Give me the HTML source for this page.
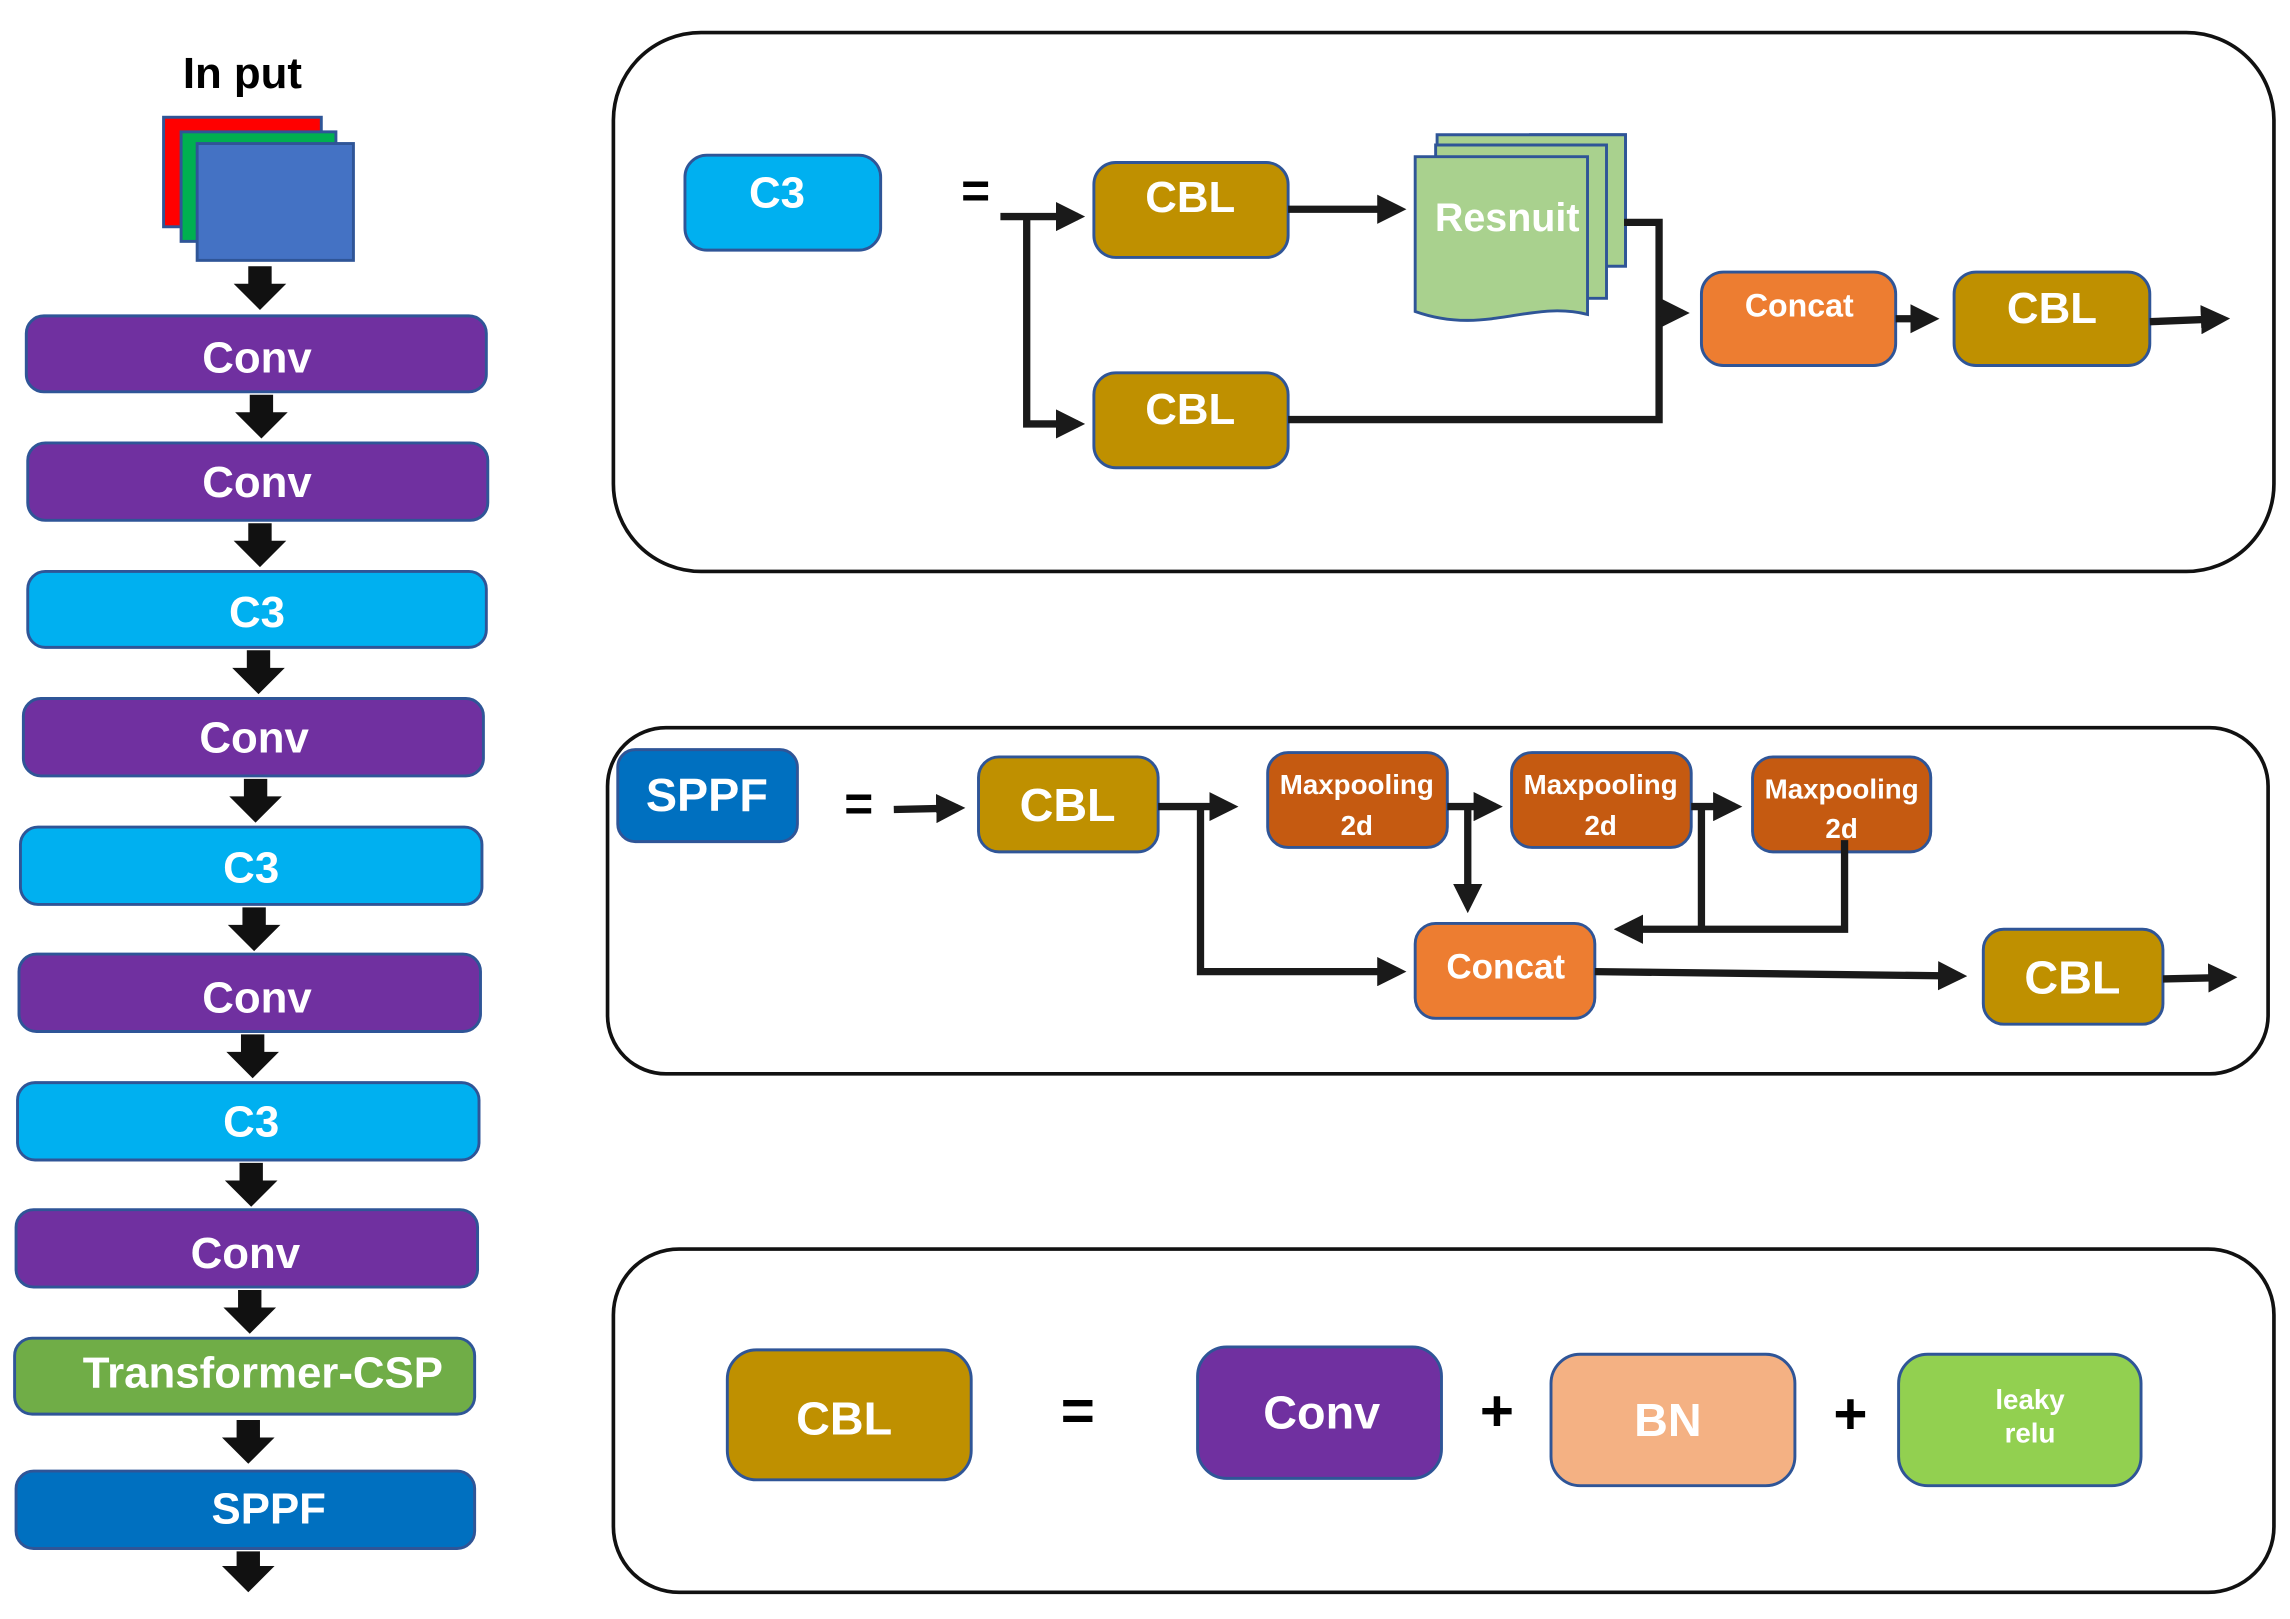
<!DOCTYPE html>
<html><head><meta charset="utf-8"><style>
html,body{margin:0;padding:0;background:#fff;}
svg{display:block;}
text{font-family:"Liberation Sans","DejaVu Sans",sans-serif;font-weight:bold;fill:#fff;text-anchor:middle;dominant-baseline:central;}
</style></head><body>
<svg width="2290" height="1619" viewBox="0 0 1568 1108" xmlns="http://www.w3.org/2000/svg">
<defs>
<marker id="a" markerWidth="4" markerHeight="4" refX="3" refY="2" orient="auto" markerUnits="strokeWidth"><path d="M0,0 L4,2 L0,4 z" fill="#1a1a1a"/></marker>
</defs>
<g stroke="#2f5597" stroke-width="2">
<rect x="18" y="216" width="315" height="52" rx="12" fill="#7030a0"/>
<rect x="19" y="303" width="315" height="53" rx="12" fill="#7030a0"/>
<rect x="19" y="391" width="314" height="52" rx="12" fill="#00b0f0"/>
<rect x="16" y="478" width="315" height="53" rx="12" fill="#7030a0"/>
<rect x="14" y="566" width="316" height="53" rx="12" fill="#00b0f0"/>
<rect x="13" y="653" width="316" height="53" rx="12" fill="#7030a0"/>
<rect x="12" y="741" width="316" height="53" rx="12" fill="#00b0f0"/>
<rect x="11" y="828" width="316" height="53" rx="12" fill="#7030a0"/>
<rect x="10" y="916" width="315" height="52" rx="12" fill="#70ad47"/>
<rect x="11" y="1007" width="314" height="53" rx="12" fill="#0070c0"/>
</g>
<text x="176" y="245" font-size="30">Conv</text>
<text x="176" y="330" font-size="30">Conv</text>
<text x="176" y="419" font-size="30">C3</text>
<text x="174" y="505" font-size="30">Conv</text>
<text x="172" y="594" font-size="30">C3</text>
<text x="176" y="683" font-size="30">Conv</text>
<text x="172" y="768" font-size="30">C3</text>
<text x="168" y="858" font-size="30">Conv</text>
<text x="180" y="940" font-size="30">Transformer-CSP</text>
<text x="184" y="1033" font-size="30">SPPF</text>
<g fill="#111">
<path d="M170,182 h16 v12 h10 l-18,18 l-18,-18 h10z"/>
<path d="M171,270 h16 v12 h10 l-18,18 l-18,-18 h10z"/>
<path d="M170,358 h16 v12 h10 l-18,18 l-18,-18 h10z"/>
<path d="M169,445 h16 v12 h10 l-18,18 l-18,-18 h10z"/>
<path d="M167,533 h16 v12 h10 l-18,18 l-18,-18 h10z"/>
<path d="M166,621 h16 v12 h10 l-18,18 l-18,-18 h10z"/>
<path d="M165,708 h16 v12 h10 l-18,18 l-18,-18 h10z"/>
<path d="M164,796 h16 v12 h10 l-18,18 l-18,-18 h10z"/>
<path d="M163,883 h16 v12 h10 l-18,18 l-18,-18 h10z"/>
<path d="M162,972 h16 v12 h10 l-18,18 l-18,-18 h10z"/>
<path d="M162,1062 h16 v10 h10 l-18,18 l-18,-18 h10z"/>
</g>
<text x="166" y="50" font-size="30" style="fill:#000">In put</text>
<g stroke="#2f5597" stroke-width="2">
<rect x="112" y="80" width="108" height="75" fill="#ff0000"/>
<rect x="124" y="90" width="106" height="75" fill="#00b050"/>
<rect x="135" y="98" width="107" height="80" fill="#4472c4"/>
</g>
<!-- panels -->
<g fill="none" stroke="#111" stroke-width="2.5">
<rect x="420" y="22" width="1137" height="369" rx="60"/>
<rect x="416" y="498" width="1137" height="237" rx="40"/>
<rect x="420" y="855" width="1137" height="235" rx="45"/>
</g>
<!-- panel1 -->
<g stroke="#2f5597" stroke-width="2">
<rect x="469" y="106" width="134" height="65" rx="15" fill="#00b0f0"/>
<rect x="749" y="111" width="133" height="65" rx="15" fill="#bf9000"/>
<rect x="749" y="255" width="133" height="65" rx="15" fill="#bf9000"/>
<rect x="1165" y="186" width="133" height="64" rx="15" fill="#ed7d31"/>
<rect x="1338" y="186" width="134" height="64" rx="15" fill="#bf9000"/>
<rect x="1046" y="79" width="0" height="0"/>
<path d="M1048,92 h65 v90 h-65z" fill="#a9d18e"/>
<path d="M984,92 h129 v90 h-129z" fill="#a9d18e"/>
<path d="M983,99 h117 v105 h-117z" fill="#a9d18e"/>
<path d="M969,107 h118 v108 c-40,-10 -70,15 -118,-2z" fill="#a9d18e"/>
</g>
<text x="532" y="132" font-size="30">C3</text>
<text x="668" y="130" font-size="34" style="fill:#000">=</text>
<text x="815" y="135" font-size="30">CBL</text>
<text x="815" y="280" font-size="30">CBL</text>
<text x="1032" y="149" font-size="27">Resnuit</text>
<text x="1232" y="209" font-size="22">Concat</text>
<text x="1405" y="211" font-size="30">CBL</text>
<g fill="none" stroke="#1a1a1a" stroke-width="5">
<path d="M685,148 H738" marker-end="url(#a)"/>
<path d="M703,148 V290 H738" marker-end="url(#a)"/>
<path d="M882,143 H958" marker-end="url(#a)"/>
<path d="M1112,152 H1136 V287 H882"/>
<path d="M1136,214 H1152" marker-end="url(#a)"/>
<path d="M1298,218 H1323" marker-end="url(#a)"/>
<path d="M1472,220 L1522,218" marker-end="url(#a)"/>
</g>
<!-- panel2 -->
<g stroke="#2f5597" stroke-width="2">
<rect x="423" y="513" width="123" height="63" rx="12" fill="#0070c0"/>
<rect x="670" y="518" width="123" height="65" rx="14" fill="#bf9000"/>
<rect x="868" y="515" width="123" height="65" rx="14" fill="#c55a11"/>
<rect x="1035" y="515" width="123" height="65" rx="14" fill="#c55a11"/>
<rect x="1200" y="518" width="122" height="65" rx="14" fill="#c55a11"/>
<rect x="969" y="632" width="123" height="65" rx="14" fill="#ed7d31"/>
<rect x="1358" y="636" width="123" height="65" rx="14" fill="#bf9000"/>
</g>
<text x="484" y="544" font-size="32">SPPF</text>
<text x="588" y="550" font-size="34" style="fill:#000">=</text>
<text x="731" y="551" font-size="32">CBL</text>
<g font-size="19"><text x="929" y="537">Maxpooling</text><text x="929" y="565">2d</text>
<text x="1096" y="537">Maxpooling</text><text x="1096" y="565">2d</text>
<text x="1261" y="540">Maxpooling</text><text x="1261" y="567">2d</text></g>
<text x="1031" y="662" font-size="24">Concat</text>
<text x="1419" y="669" font-size="32">CBL</text>
<g fill="none" stroke="#1a1a1a" stroke-width="5">
<path d="M612,554 L656,553" marker-end="url(#a)"/>
<path d="M793,552 H843" marker-end="url(#a)"/>
<path d="M822,552 V665 H958" marker-end="url(#a)"/>
<path d="M991,552 H1024" marker-end="url(#a)"/>
<path d="M1005,552 V620" marker-end="url(#a)"/>
<path d="M1158,552 H1188" marker-end="url(#a)"/>
<path d="M1263,575 V636 H1110" marker-end="url(#a)"/>
<path d="M1165,552 V636"/>
<path d="M1092,665 L1342,668" marker-end="url(#a)"/>
<path d="M1481,670 L1527,669" marker-end="url(#a)"/>
</g>
<!-- panel3 -->
<g stroke="#2f5597" stroke-width="2">
<rect x="498" y="924" width="167" height="89" rx="20" fill="#bf9000"/>
<rect x="820" y="922" width="167" height="90" rx="20" fill="#7030a0"/>
<rect x="1062" y="927" width="167" height="90" rx="20" fill="#f4b183"/>
<rect x="1300" y="927" width="166" height="90" rx="20" fill="#92d050"/>
</g>
<text x="578" y="971" font-size="32">CBL</text>
<text x="738" y="966" font-size="40" style="fill:#000">=</text>
<text x="905" y="967" font-size="32">Conv</text>
<text x="1025" y="966" font-size="40" style="fill:#000">+</text>
<text x="1142" y="972" font-size="32">BN</text>
<text x="1267" y="968" font-size="40" style="fill:#000">+</text>
<text x="1390" y="958" font-size="19">leaky</text>
<text x="1390" y="981" font-size="19">relu</text>
</svg>
</body></html>
